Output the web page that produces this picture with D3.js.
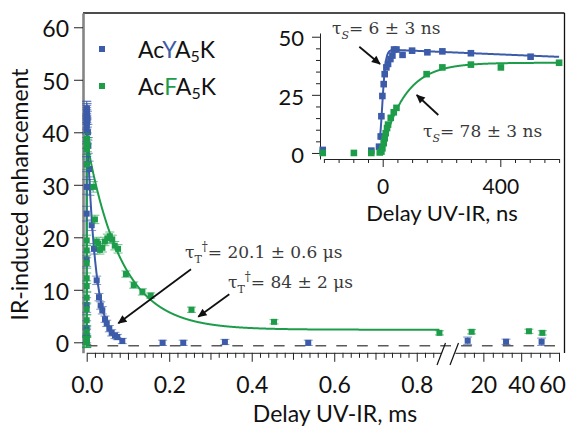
<!DOCTYPE html>
<html>
<head>
<meta charset="utf-8">
<script src="https://cdn.jsdelivr.net/npm/d3@7"></script>
<style>
  html, body { margin: 0; padding: 0; background: #fff; }
  svg { display: block; }
</style>
</head>
<body>
<svg id="chart" width="571" height="429"></svg>
<script>
// ---------- data ----------
const seriesNames = ["AcYA5K", "AcFA5K"];

// Inset (ns scale): [delay in ns, enhancement]
const insetBlue = [
  [-204, 1.3], [-38.7, 1.0], [-12.5, 2.7], [-6.8, 7.1], [-4.5, 15.8], [-1.1, 24.5],
  [3.4, 29.6], [6.8, 33.9], [12.5, 36.8], [18.2, 38.3], [26.2, 40.4], [33, 41.9],
  [38.7, 44.5], [46.8, 44.5], [67.5, 42.2], [100, 44.0], [152, 43.3], [203, 43.7],
  [300, 42.9], [503, 41.4]
];
const insetGreen = [
  [-204, 0], [-98, 0], [-38.7, 0], [-10, 0.2], [-4.5, 0.6], [-1, 2.0], [3.4, 4.2],
  [6.8, 6.3], [10.3, 8.5], [14.8, 10.7], [18.2, 12.2], [27.4, 15.1], [37.6, 17.5],
  [46.8, 19.4], [149.4, 33.9], [203, 36.8], [300, 38.0], [402, 36.8], [600, 38.8]
];

// Main panel, longer delays: [delay in ms, enhancement, error]
const mainBlueLate = [
  [0.001, 44, 1.5], [0.002, 42.5, 1.5], [0.003, 40, 1.5], [0.004, 37.5, 1.5],
  [0.006, 33, 1.5], [0.008, 29.5, 1.5], [0.0121, 22.3, 1.0], [0.0177, 17.8, 1.0],
  [0.0242, 11.8, 0.8], [0.0298, 8.6, 0.7], [0.0339, 7.0, 0.7], [0.0378, 6.1, 0.7],
  [0.0444, 4.4, 0.6], [0.0485, 3.6, 0.6], [0.0548, 2.6, 0.6], [0.0606, 1.8, 0.6],
  [0.0686, 1.3, 0.6], [0.0742, 1.0, 0.5], [0.0863, 0.25, 0.5], [0.184, -0.1, 0.5],
  [0.234, -0.1, 0.5], [0.335, 0.06, 0.5], [0.537, -0.1, 0.5],
  [11.7, 0.3, 0.7], [32, 0.1, 0.5], [50.8, 0.1, 0.7]
];
const mainGreenLate = [
  [0.0017, 37.5, 1.2], [0.016, 29.6, 1.0], [0.020, 23.4, 0.8], [0.0243, 19.2, 0.8],
  [0.028, 18.8, 0.8], [0.032, 17.6, 0.8], [0.038, 18.0, 0.8], [0.044, 19.2, 0.8],
  [0.050, 19.8, 0.8], [0.056, 20.2, 0.8], [0.062, 19.6, 0.8], [0.068, 18.4, 0.8],
  [0.076, 17.8, 0.8], [0.095, 13.0, 0.6], [0.114, 10.9, 0.6], [0.135, 9.6, 0.6],
  [0.155, 8.9, 0.5], [0.254, 6.2, 0.5], [0.454, 3.9, 0.4], [0.855, 1.8, 0.4],
  [13.8, 2.0, 0.4], [44.1, 2.1, 0.4], [51.2, 1.8, 0.4]
];

// Fit parameters (tau values as stated in the annotations)
const fitMainBlue  = { amp: 43, offset: 0,   tau: 0.0201, end: 0.09 };   // ms
const fitMainGreen = { amp: 36, offset: 2.4, tau: 0.084,  end: 0.855 };  // ms
const fitInsetBlue  = { amp: 44.6, t0: -6, tauS: 6,  sigma: 7, tauDecay: 8000 }; // ns
const fitInsetGreen = { amp: 38.8, t0: -4, tauS: 78, sigma: 7, tauDecay: Infinity };

// Axis ticks
const yTicksMain = [0, 10, 20, 30, 40, 50, 60];
const xTicksA = [0, 0.2, 0.4, 0.6, 0.8];
const xTicksAmid = [0.1, 0.3, 0.5, 0.7];
const xTicksB = [20, 40, 60];
const xTicksBminor = [10, 15, 25, 30, 35, 45, 50, 55];
const yTicksInset = [0, 25, 50];
const xTicksInset = [0, 400];

// ---------- styling ----------
const BLUE = "#3c5ba9";
const GREEN = "#1d9d4a";
const SANS = "Lato, 'Open Sans', sans-serif";
const SERIF = "'DejaVu Serif', 'Liberation Serif', serif";
const ANNOT = "#3a3a3a";

const svg = d3.select("#chart");
svg.append("rect").attr("width", 571).attr("height", 429).attr("fill", "#fff");

// ---------- scales ----------
const xA = d3.scaleLinear().domain([0, 0.86]).range([86.7, 441.5]);
const xB = d3.scaleLinear().domain([5, 60]).range([455, 559]);
const xMain = v => (v > 1 ? xB(v) : xA(v));
const yM = d3.scaleLinear().domain([-2, 62.7]).range([352.8, 13.1]);

const xi = d3.scaleLinear().domain([-200, 600]).range([323.9, 559.1]);
const yi = d3.scaleLinear().domain([-2.6, 51.6]).range([159, 33]);

// ---------- fit curves ----------
function erf(x) {
  const s = Math.sign(x); x = Math.abs(x);
  const t = 1 / (1 + 0.3275911 * x);
  const y = 1 - (((((1.061405429 * t - 1.453152027) * t) + 1.421413741) * t - 0.284496736) * t + 0.254829592) * t * Math.exp(-x * x);
  return s * y;
}
const Phi = z => 0.5 * (1 + erf(z / Math.SQRT2));
// exponential rise convolved with a gaussian response
function rise(t, p) {
  const u = t - p.t0;
  if (u / p.sigma < -6) return 0;
  const e = Math.exp(-u / p.tauS + (p.sigma * p.sigma) / (2 * p.tauS * p.tauS));
  return Phi(u / p.sigma) - e * Phi(u / p.sigma - p.sigma / p.tauS);
}
const insetCurve = p => d3.range(p.t0 - 4, 600.5, 0.5)
  .map(t => [t, p.amp * rise(t, p) * Math.exp(-(t - p.t0) / p.tauDecay)]);
const mainCurve = p => [[0, 0]].concat(
  d3.range(0.0001, p.end + 1e-9, 0.0005).concat([p.end])
    .map(t => [t, p.amp * Math.exp(-t / p.tau) + p.offset]));

// full main-panel series: ns points (converted to ms) followed by the longer delays
const nsToMs = (arr, err) => arr.map(d => [d[0] / 1e6, d[1], err]);
const mainBlue = nsToMs(insetBlue, 1.4).concat(mainBlueLate);
const mainGreen = nsToMs(insetGreen, 1.0).concat(mainGreenLate);

// ---------- main frame ----------
svg.append("line").attr("x1", 83).attr("y1", 13).attr("x2", 564.5).attr("y2", 13)
  .attr("stroke", "#111").attr("stroke-width", 1.3);
svg.append("line").attr("x1", 564.5).attr("y1", 13).attr("x2", 564.5).attr("y2", 353)
  .attr("stroke", "#111").attr("stroke-width", 1.3);

// zero reference (dashed)
svg.append("line")
  .attr("x1", xA(0)).attr("x2", 556)
  .attr("y1", yM(-0.65)).attr("y2", yM(-0.65))
  .attr("stroke", "#5a5a5a").attr("stroke-width", 1.4)
  .attr("stroke-dasharray", "10.7,10.1");

// ---------- main axes ----------
function styleAxis(g, fs) {
  g.selectAll("text").attr("font-family", SANS).attr("font-size", fs).attr("fill", "#111");
  g.selectAll(".tick line").attr("stroke", "#222").attr("stroke-width", 1);
}
const gy = svg.append("g").attr("transform", "translate(83,0)")
  .call(d3.axisLeft(yM).tickValues(yTicksMain).tickSize(9).tickPadding(5).tickSizeOuter(0));
styleAxis(gy, 23);
gy.select(".domain").attr("stroke", "#858585").attr("stroke-width", 2.6);
gy.selectAll("text").attr("dy", "0.42em");

const gxA = svg.append("g").attr("transform", `translate(0,${yM(-2)})`)
  .call(d3.axisBottom(xA).tickValues(xTicksA).tickSize(9).tickPadding(15)
    .tickFormat(d3.format(".1f")).tickSizeOuter(0));
styleAxis(gxA, 23);
gxA.select(".domain").attr("stroke", "#222").attr("stroke-width", 1);
const minorA = d3.range(0, 0.8401, 0.02).filter(v => Math.abs(v * 10 - Math.round(v * 10)) > 1e-6);
svg.append("g").attr("transform", `translate(0,${yM(-2)})`)
  .call(d3.axisBottom(xA).tickValues(minorA).tickSize(5).tickFormat(""))
  .call(g => { g.select(".domain").remove(); g.selectAll("line").attr("stroke", "#222"); });
svg.append("g").attr("transform", `translate(0,${yM(-2)})`)
  .call(d3.axisBottom(xA).tickValues(xTicksAmid).tickSize(7).tickFormat(""))
  .call(g => { g.select(".domain").remove(); g.selectAll("line").attr("stroke", "#222"); });

const gxB = svg.append("g").attr("transform", `translate(0,${yM(-2)})`)
  .call(d3.axisBottom(xB).tickValues(xTicksB).tickSize(9).tickPadding(15)
    .tickFormat(d3.format("d")).tickSizeOuter(0));
styleAxis(gxB, 23);
gxB.select(".domain").attr("stroke", "#222").attr("stroke-width", 1);
// keep the last label inside the frame edge
gxB.selectAll(".tick").filter(d => d === 60).select("text").attr("x", -7);
svg.append("g").attr("transform", `translate(0,${yM(-2)})`)
  .call(d3.axisBottom(xB).tickValues(xTicksBminor).tickSize(5).tickFormat(""))
  .call(g => { g.select(".domain").remove(); g.selectAll("line").attr("stroke", "#222"); });

// axis break marks
[[437, 365, 445.5, 343], [450, 365, 458.5, 343]].forEach(s => {
  svg.append("line").attr("x1", s[0]).attr("y1", s[1]).attr("x2", s[2]).attr("y2", s[3])
    .attr("stroke", "#111").attr("stroke-width", 1.2);
});

// axis titles
svg.append("text").attr("transform", "translate(28,194.5) rotate(-90)")
  .attr("text-anchor", "middle").attr("font-family", SANS).attr("font-size", 23)
  .attr("fill", "#111").text("IR-induced enhancement");
svg.append("text").attr("x", 335).attr("y", 422)
  .attr("text-anchor", "middle").attr("font-family", SANS).attr("font-size", 23)
  .attr("fill", "#111").text("Delay UV-IR, ms");

// ---------- main curves & points ----------
const lineMain = d3.line().x(d => xMain(d[0])).y(d => yM(d[1]));
svg.append("path").datum(mainCurve(fitMainBlue)).attr("d", lineMain)
  .attr("fill", "none").attr("stroke", BLUE).attr("stroke-width", 2);
svg.append("path").datum(mainCurve(fitMainGreen)).attr("d", lineMain)
  .attr("fill", "none").attr("stroke", GREEN).attr("stroke-width", 2);

function drawMainPoints(data, color) {
  const g = svg.append("g");
  const eb = g.selectAll("g.eb").data(data).join("g").attr("class", "eb")
    .attr("stroke", color).attr("stroke-opacity", 0.65).attr("stroke-width", 1);
  eb.append("line")
    .attr("x1", d => xMain(d[0])).attr("x2", d => xMain(d[0]))
    .attr("y1", d => yM(d[1] - d[2])).attr("y2", d => yM(d[1] + d[2]));
  eb.append("line")
    .attr("x1", d => xMain(d[0]) - 4.5).attr("x2", d => xMain(d[0]) + 4.5)
    .attr("y1", d => yM(d[1] - d[2])).attr("y2", d => yM(d[1] - d[2]));
  eb.append("line")
    .attr("x1", d => xMain(d[0]) - 4.5).attr("x2", d => xMain(d[0]) + 4.5)
    .attr("y1", d => yM(d[1] + d[2])).attr("y2", d => yM(d[1] + d[2]));
  g.selectAll("rect").data(data).join("rect")
    .attr("x", d => xMain(d[0]) - 3).attr("y", d => yM(d[1]) - 3)
    .attr("width", 6).attr("height", 6).attr("fill", color);
}
drawMainPoints(mainBlue, BLUE);
drawMainPoints(mainGreen, GREEN);

// ---------- legend ----------
const legend = [
  { y: 49, color: BLUE, letter: "Y" },
  { y: 86, color: GREEN, letter: "F" }
];
legend.forEach(l => {
  svg.append("rect").attr("x", 99).attr("y", l.y - 3).attr("width", 6).attr("height", 6).attr("fill", l.color);
  const t = svg.append("text").attr("x", 138).attr("y", l.y + 8.5)
    .attr("font-family", SANS).attr("font-size", 23).attr("fill", "#111");
  t.append("tspan").text("Ac");
  t.append("tspan").attr("fill", l.color).text(l.letter);
  t.append("tspan").text("A");
  t.append("tspan").attr("font-size", 16).attr("dy", 4).text("5");
  t.append("tspan").attr("dy", -4).text("K");
});

// ---------- inset ----------
const giy = svg.append("g").attr("transform", "translate(320,0)")
  .call(d3.axisLeft(yi).tickValues(yTicksInset).tickSize(8).tickPadding(8).tickSizeOuter(0));
styleAxis(giy, 22);
giy.select(".domain").attr("stroke", "#222").attr("stroke-width", 1);
giy.selectAll("text").attr("dy", "0.42em");
svg.append("g").attr("transform", "translate(320,0)")
  .call(d3.axisLeft(yi).tickValues(d3.range(5, 50, 5).filter(v => v !== 25)).tickSize(4).tickFormat(""))
  .call(g => { g.select(".domain").remove(); g.selectAll("line").attr("stroke", "#222"); });

const gix = svg.append("g").attr("transform", "translate(0,159)")
  .call(d3.axisBottom(xi).tickValues(xTicksInset).tickSize(8).tickPadding(12).tickSizeOuter(0));
styleAxis(gix, 21);
gix.select(".domain").attr("stroke", "#222").attr("stroke-width", 1);
svg.append("g").attr("transform", "translate(0,159)")
  .call(d3.axisBottom(xi).tickValues(d3.range(-200, 601, 50).filter(v => v !== 0 && v !== 400)).tickSize(4).tickFormat(""))
  .call(g => { g.select(".domain").remove(); g.selectAll("line").attr("stroke", "#222"); });

svg.append("text").attr("x", 442).attr("y", 221)
  .attr("text-anchor", "middle").attr("font-family", SANS).attr("font-size", 22)
  .attr("fill", "#111").text("Delay UV-IR, ns");

const lineInset = d3.line().x(d => xi(d[0])).y(d => yi(d[1]));
svg.append("path").datum(insetCurve(fitInsetBlue)).attr("d", lineInset)
  .attr("fill", "none").attr("stroke", BLUE).attr("stroke-width", 2);
svg.append("path").datum(insetCurve(fitInsetGreen)).attr("d", lineInset)
  .attr("fill", "none").attr("stroke", GREEN).attr("stroke-width", 2);

function drawInsetPoints(data, color) {
  svg.append("g").selectAll("rect").data(data).join("rect")
    .attr("x", d => xi(d[0]) - 3.3).attr("y", d => yi(d[1]) - 3.3)
    .attr("width", 6.6).attr("height", 6.6).attr("fill", color);
}
drawInsetPoints(insetBlue, BLUE);
drawInsetPoints(insetGreen, GREEN);

// ---------- annotations ----------
const defs = svg.append("defs");
defs.append("marker").attr("id", "arrow").attr("viewBox", "0 0 10 10")
  .attr("refX", 9).attr("refY", 5).attr("markerWidth", 11).attr("markerHeight", 9)
  .attr("markerUnits", "userSpaceOnUse").attr("orient", "auto")
  .append("path").attr("d", "M0,0.5 L10,5 L0,9.5 z").attr("fill", "#111");

const arrows = [
  [191, 269.3, 118.3, 323.3],
  [229.3, 294.3, 198.3, 316.7],
  [359.3, 46.7, 380, 64],
  [438.3, 115, 416.7, 95]
];
arrows.forEach(a => {
  svg.append("line").attr("x1", a[0]).attr("y1", a[1]).attr("x2", a[2]).attr("y2", a[3])
    .attr("stroke", "#111").attr("stroke-width", 1.8).attr("marker-end", "url(#arrow)");
});

function tauLabel(x, y, sub, sup, rest) {
  const t = svg.append("text").attr("x", x).attr("y", y)
    .attr("font-family", SERIF).attr("font-size", 17).attr("fill", ANNOT);
  t.append("tspan").text("τ");
  t.append("tspan").attr("font-size", 11).attr("dy", 5)
    .attr("font-style", sup ? "normal" : "italic").text(sub);
  if (sup) {
    t.append("tspan").attr("font-size", 12).attr("dy", -12).text(sup);
    t.append("tspan").attr("dy", 7).text(rest);
  } else {
    t.append("tspan").attr("dy", -5).text(rest);
  }
}
tauLabel(185, 258, "T", "†", "= 20.1 ± 0.6 μs");
tauLabel(228, 288, "T", "†", "= 84 ± 2 μs");
tauLabel(332, 34, "S", null, "= 6 ± 3 ns");
tauLabel(423, 137, "S", null, "= 78 ± 3 ns");
</script>
</body>
</html>
